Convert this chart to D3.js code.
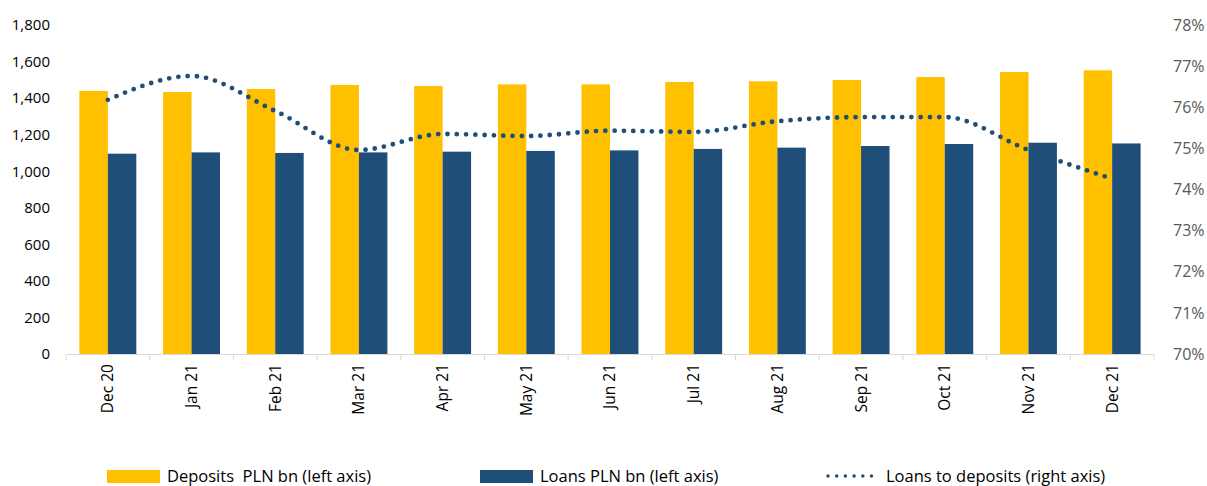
<!DOCTYPE html>
<html>
<head>
<meta charset="utf-8">
<script src="https://cdn.jsdelivr.net/npm/d3@7"></script>
<style>
  body { margin: 0; background: #fff; }
  svg text { font-family: "Open Sans", sans-serif; white-space: pre; }
</style>
</head>
<body>
<div id="chart"></div>
<script>
// months on the x axis
var months = ['Dec 20', 'Jan 21', 'Feb 21', 'Mar 21', 'Apr 21', 'May 21', 'Jun 21',
              'Jul 21', 'Aug 21', 'Sep 21', 'Oct 21', 'Nov 21', 'Dec 21']

// PLN bn, left axis
var deposits = [1439, 1433, 1450, 1472, 1466, 1475, 1475, 1488, 1492, 1499, 1515, 1543, 1552]
var loans    = [1096, 1103, 1100, 1103, 1107, 1111, 1114, 1122, 1129, 1138, 1149, 1156, 1152]

// loans to deposits, right axis
var ratio = [0.7618, 0.7676, 0.7591, 0.7496, 0.7535, 0.7530, 0.7543, 0.7540, 0.7566, 0.7576, 0.7576, 0.7496, 0.7426]

var leftTicks = [0, 200, 400, 600, 800, 1000, 1200, 1400, 1600, 1800]
var rightTicks = [0.70, 0.71, 0.72, 0.73, 0.74, 0.75, 0.76, 0.77, 0.78]

var seriesNames = ['Deposits  PLN bn (left axis)', 'Loans PLN bn (left axis)', 'Loans to deposits (right axis)']

var width = 1207, height = 486
var margin = { top: 25, left: 66, right: 53, bottom: 132 }

var yellow = '#FFC000', navy = '#1F4E79'

var svg = d3.select('#chart').append('svg')
  .attr('width', width)
  .attr('height', height)

var x = d3.scaleBand()
  .domain(months)
  .range([margin.left, width - margin.right])

var bw = x.bandwidth()
var x1 = d3.scaleBand()
  .domain(['dep', 'loan'])
  .range([bw * 0.16, bw * 0.84])

var y = d3.scaleLinear().domain([0, 1800]).range([height - margin.bottom, margin.top])
var y2 = d3.scaleLinear().domain([0.70, 0.78]).range([height - margin.bottom, margin.top])

var rows = months.map(function(m, i){
  return { m: m, dep: deposits[i], loan: loans[i], r: ratio[i] }
})

// bars
var groups = svg.append('g').selectAll('g')
  .data(rows)
  .enter().append('g')
  .attr('transform', function(d){ return 'translate(' + x(d.m) + ',0)' })

groups.append('rect')
  .attr('x', x1('dep'))
  .attr('y', function(d){ return y(d.dep) })
  .attr('width', x1.bandwidth())
  .attr('height', function(d){ return y(0) - y(d.dep) })
  .attr('fill', yellow)

groups.append('rect')
  .attr('x', x1('loan'))
  .attr('y', function(d){ return y(d.loan) })
  .attr('width', x1.bandwidth())
  .attr('height', function(d){ return y(0) - y(d.loan) })
  .attr('fill', navy)

// x axis
var xAxis = svg.append('g')
  .attr('transform', 'translate(0,' + y(0) + ')')
  .call(d3.axisBottom(x).tickSize(0).tickSizeOuter(0))

xAxis.select('.domain').attr('stroke', '#d9d9d9')
xAxis.selectAll('.tick line').remove()

// tick marks between categories
svg.append('g').selectAll('line')
  .data(months.concat(['end']))
  .enter().append('line')
  .attr('x1', function(d, i){ return margin.left + i * bw })
  .attr('x2', function(d, i){ return margin.left + i * bw })
  .attr('y1', y(0))
  .attr('y2', y(0) + 6)
  .attr('stroke', '#d9d9d9')

xAxis.selectAll('.tick text')
  .attr('transform', 'rotate(-90)')
  .attr('text-anchor', 'end')
  .attr('x', -10)
  .attr('y', 0)
  .attr('dy', '0.35em')
  .attr('fill', '#000')
  .style('font-size', '15.5px')

// left axis
var yAxis = svg.append('g')
  .attr('transform', 'translate(' + (margin.left - 16) + ',0)')
  .call(d3.axisLeft(y).tickValues(leftTicks).tickFormat(d3.format(',')).tickSize(0))
yAxis.select('.domain').remove()
yAxis.selectAll('text').attr('fill', '#000').attr('x', 0).style('font-size', '15px')

// right axis
var yAxis2 = svg.append('g')
  .attr('transform', 'translate(' + (width - margin.right + 19) + ',0)')
  .call(d3.axisRight(y2).tickValues(rightTicks).tickFormat(d3.format('.0%')).tickSize(0))
yAxis2.select('.domain').remove()
yAxis2.selectAll('text').attr('fill', '#595959').attr('x', 0).style('font-size', '16px')

// ratio line
var line = d3.line()
  .x(function(d){ return x(d.m) + bw / 2 })
  .y(function(d){ return y2(d.r) })
  .curve(d3.curveMonotoneX)

svg.append('path')
  .datum(rows)
  .attr('d', line)
  .attr('fill', 'none')
  .attr('stroke', navy)
  .attr('stroke-width', 4.8)
  .attr('stroke-linecap', 'round')
  .attr('stroke-dasharray', '0 9.3')

// legend
var legend = svg.append('g').attr('transform', 'translate(0,476)')
var legX = [107, 480, 826]

legend.append('rect').attr('x', legX[0]).attr('y', -6).attr('width', 53).attr('height', 13).attr('fill', yellow)
legend.append('rect').attr('x', legX[1]).attr('y', -6).attr('width', 53).attr('height', 13).attr('fill', navy)
legend.append('line')
  .attr('x1', legX[2] + 2).attr('x2', legX[2] + 54).attr('y1', 0).attr('y2', 0)
  .attr('stroke', navy).attr('stroke-width', 3.5)
  .attr('stroke-linecap', 'round').attr('stroke-dasharray', '0 8.7')

legend.selectAll('text')
  .data(seriesNames)
  .enter().append('text')
  .attr('x', function(d, i){ return legX[i] + 60 })
  .attr('y', 0)
  .attr('dy', '0.35em')
  .attr('fill', '#000')
  .style('font-size', '16.5px')
  .text(function(d){ return d })
</script>
</body>
</html>
